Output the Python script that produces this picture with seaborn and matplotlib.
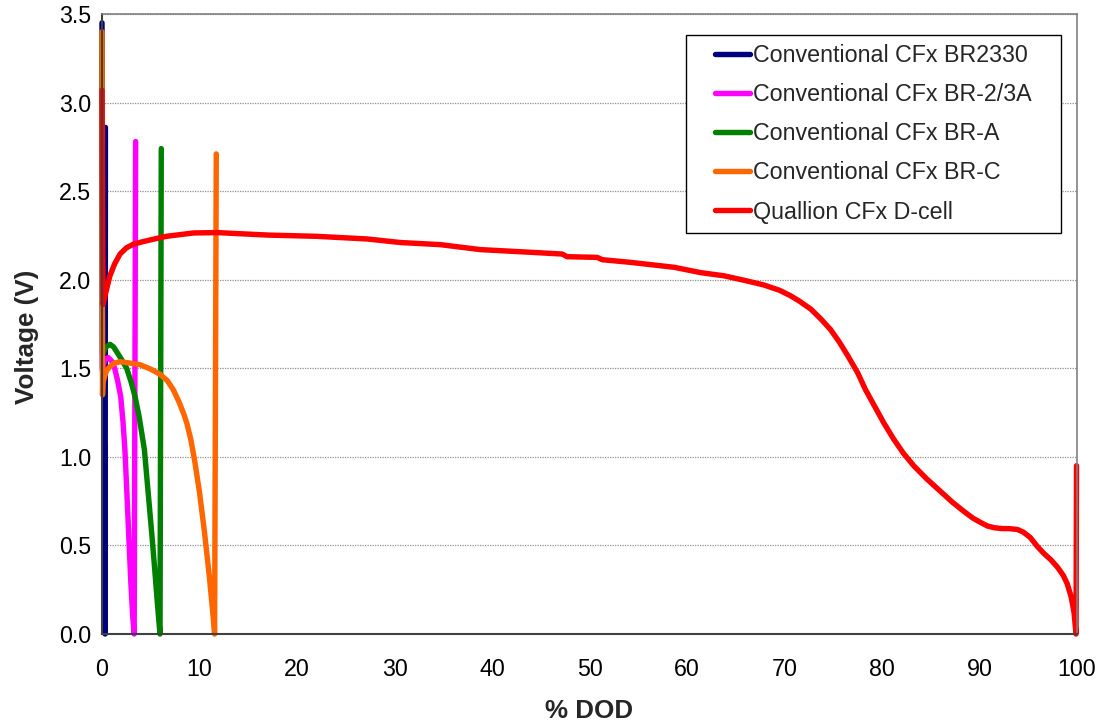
import numpy as np
import pandas as pd
import matplotlib
matplotlib.use("Agg")
import matplotlib.pyplot as plt
import seaborn as sns
from matplotlib.lines import Line2D
from matplotlib.legend_handler import HandlerLine2D

# ---- data ----
series_names = [
    "Conventional CFx BR2330",
    "Conventional CFx BR-2/3A",
    "Conventional CFx BR-A",
    "Conventional CFx BR-C",
    "Quallion CFx D-cell",
]
series_colors = ["#000080", "#FF00FF", "#008000", "#FF6600", "#FF0000"]

br2330_x = [0.0, 0.05, 0.10, 0.15, 0.20, 0.25, 0.30, 0.32, 0.35]
br2330_y = [3.45, 1.50, 1.45, 1.40, 1.30, 1.00, 0.40, 0.00, 2.86]

br23a_x = [0.0, 0.05, 0.30, 0.65, 1.00, 1.30, 1.60, 1.92, 2.15, 2.35, 2.55,
           2.75, 2.95, 3.15, 3.30, 3.45]
br23a_y = [3.30, 1.50, 1.55, 1.56, 1.54, 1.50, 1.43, 1.34, 1.20, 1.04, 0.80,
           0.55, 0.30, 0.10, 0.00, 2.78]

bra_x = [0.0, 0.05, 0.40, 0.82, 1.20, 1.60, 2.00, 2.53, 3.00, 3.39, 3.80,
         4.35, 4.70, 5.10, 5.40, 5.70, 5.95, 6.08]
bra_y = [3.37, 1.58, 1.62, 1.635, 1.62, 1.585, 1.55, 1.50, 1.42, 1.34, 1.23,
         1.04, 0.82, 0.57, 0.37, 0.16, 0.00, 2.74]

brc_x = [0.0, 0.05, 0.10, 0.30, 0.50, 0.82, 1.30, 1.85, 2.80, 3.90, 5.00,
         5.95, 6.70, 7.30, 7.90, 8.40, 8.70, 9.10, 9.50, 10.00, 10.50, 11.00,
         11.35, 11.55, 11.72]
brc_y = [3.40, 1.35, 1.42, 1.46, 1.49, 1.51, 1.53, 1.537, 1.53, 1.52, 1.495,
         1.466, 1.43, 1.38, 1.31, 1.24, 1.19, 1.10, 0.98, 0.80, 0.58, 0.33,
         0.13, 0.00, 2.71]

dcell_x = [0.0, 0.1, 0.4, 0.8, 1.3, 1.85, 2.5, 3.2, 4.0, 4.9, 6.6, 9.4, 11.8,
           17.0, 22.0, 27.2, 30.6, 34.7, 38.8, 43.9, 47.2, 47.7, 50.8, 51.3,
           54.2, 58.7, 61.4, 63.8, 66.0, 67.9, 69.5, 70.6, 71.5, 72.7, 73.7,
           74.7, 75.6, 76.5, 77.5, 78.3, 79.2, 80.2, 81.2, 82.2, 83.3, 84.6,
           86.0, 87.2, 88.4, 89.3, 90.1, 90.8, 91.5, 92.3, 93.0, 93.9, 94.5,
           95.2, 96.0, 96.6, 97.3, 98.0, 98.6, 99.0, 99.4, 99.7, 99.9, 99.95]
dcell_y = [3.07, 1.86, 1.93, 2.02, 2.09, 2.145, 2.18, 2.20, 2.212, 2.224, 2.245,
           2.264, 2.266, 2.252, 2.245, 2.23, 2.21, 2.198, 2.17, 2.155, 2.145,
           2.13, 2.126, 2.113, 2.098, 2.07, 2.04, 2.022, 1.995, 1.97, 1.94,
           1.91, 1.88, 1.834, 1.78, 1.72, 1.65, 1.57, 1.475, 1.38, 1.29, 1.19,
           1.10, 1.02, 0.947, 0.875, 0.805, 0.745, 0.692, 0.655, 0.63, 0.61,
           0.60, 0.595, 0.595, 0.59, 0.575, 0.545, 0.49, 0.455, 0.42, 0.377,
           0.33, 0.283, 0.21, 0.12, 0.00, 0.95]

x_ticks = [0, 10, 20, 30, 40, 50, 60, 70, 80, 90, 100]
y_ticks = [0.0, 0.5, 1.0, 1.5, 2.0, 2.5, 3.0, 3.5]

# ---- long table for seaborn ----
all_x = [br2330_x, br23a_x, bra_x, brc_x, dcell_x]
all_y = [br2330_y, br23a_y, bra_y, brc_y, dcell_y]
frames = []
for name, xs, ys in zip(series_names, all_x, all_y):
    frames.append(pd.DataFrame({"DOD": xs, "V": ys, "series": name}))
df = pd.concat(frames, ignore_index=True)

sns.set_style("white")
plt.rcParams["font.family"] = ["Liberation Sans", "DejaVu Sans"]

fig = plt.figure(figsize=(10.99, 7.23), dpi=100)
ax = fig.add_axes([102 / 1099, 1 - 634 / 723, 975 / 1099, 620 / 723])

palette = dict(zip(series_names, series_colors))
sns.lineplot(data=df, x="DOD", y="V", hue="series", hue_order=series_names,
             palette=palette, sort=False, estimator=None, linewidth=3.9,
             ax=ax, legend=True)
for ln in ax.get_lines():
    ln.set_clip_on(False)
    ln.set_solid_joinstyle("round")

ax.set_xlim(0, 100)
ax.set_ylim(0, 3.5)
ax.set_xticks(x_ticks)
ax.set_yticks(y_ticks)
ax.set_yticklabels([f"{v:.1f}" for v in y_ticks])
ax.tick_params(axis="both", which="major", labelsize=16.75, colors="#000000",
               direction="out", length=5, width=1.0)
ax.tick_params(axis="x", pad=12)
ax.tick_params(axis="y", pad=3)
for t in ax.get_xticklines() + ax.get_yticklines():
    t.set_color("#404040")

ax.yaxis.grid(True, linestyle=(0, (1, 1)), color="#909090", linewidth=0.9)
ax.xaxis.grid(False)
ax.set_axisbelow(True)

for side in ["left", "bottom"]:
    ax.spines[side].set_color("#404040")
    ax.spines[side].set_linewidth(1.5)
for side in ["top", "right"]:
    ax.spines[side].set_color("#808080")
    ax.spines[side].set_linewidth(1.2)

ax.set_xlabel("% DOD", fontsize=18.7, fontweight="bold")
ax.set_ylabel("Voltage (V)", fontsize=18.7, fontweight="bold")
ax.xaxis.label.set_va("center")
ax.xaxis.set_label_coords(0.5, -0.124)
ax.yaxis.label.set_va("center")
ax.yaxis.set_label_coords(-0.077, 0.48)

# ---- legend ----
old = ax.get_legend()
handles = list(old.legend_handles)
labels = [t.get_text() for t in old.get_texts()]
old.remove()
for h in handles:
    h.set_linewidth(3.9)


class ShiftedLine(HandlerLine2D):
    def create_artists(self, legend, orig_handle, xdescent, ydescent, width,
                       height, fontsize, trans):
        arts = super().create_artists(legend, orig_handle, xdescent, ydescent,
                                      width, height, fontsize, trans)
        yv = np.asarray(arts[0].get_ydata())[0]
        arts[0].set_data([-xdescent + 0.36 * width, -xdescent + width], [yv, yv])
        return arts


lx0, lx1, ly0, ly1 = 686, 1061, 35, 229
leg = ax.legend(handles, labels, loc="upper left",
                bbox_to_anchor=((lx0 - 102) / 975, (634 - ly1) / 620,
                                (lx1 - lx0) / 975, (ly1 - ly0) / 620),
                mode="expand", borderaxespad=0, fontsize=16.75, frameon=True,
                fancybox=False, shadow=False, handlelength=2.36,
                handletextpad=0.13, borderpad=0.40, labelspacing=0.69,
                numpoints=1, handler_map={Line2D: ShiftedLine()})
leg.get_frame().set_edgecolor("#000000")
leg.get_frame().set_linewidth(1.0)
leg.get_frame().set_alpha(1.0)

fig.savefig("out.png", dpi=100)
